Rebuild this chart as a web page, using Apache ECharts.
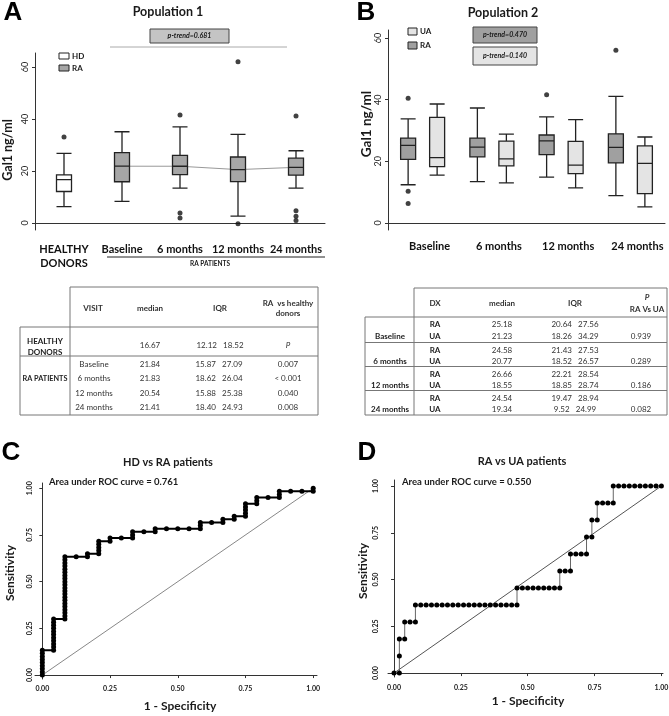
<!DOCTYPE html>
<html><head><meta charset="utf-8">
<script src="https://cdn.jsdelivr.net/npm/echarts@6/dist/echarts.min.js"></script>
<style>html,body{margin:0;padding:0;background:#fff}#c{width:669px;height:716px}</style>
</head><body><div id="c"></div>
<script>
// ---------------- DATA ----------------
// Panel A (Population 1) : [min, Q1, median, Q3, max]
const catsA = ['HEALTHY\nDONORS', 'Baseline', '6 months', '12 months', '24 months'];
const boxA = [
  [6.3, 12.12, 16.67, 18.52, 26.8],
  [8.3, 15.87, 21.84, 27.09, 35.1],
  [13.4, 18.62, 21.83, 26.04, 37.0],
  [2.6, 15.88, 20.54, 25.38, 34.1],
  [13.4, 18.40, 21.41, 24.93, 27.8]
];
const outliersA = [[0, 33.1], [2, 41.5], [2, 3.8], [2, 1.9], [3, 62.0], [3, -0.3], [4, 41.2], [4, 4.7], [4, 2.6], [4, 1.0]];
const ticksAB = [0, 20, 40, 60];

// Panel B (Population 2)
const catsB = ['Baseline', '6 months', '12 months', '24 months'];
const boxB_RA = [
  [12.4, 20.64, 25.18, 27.56, 33.8],
  [13.4, 21.43, 24.58, 27.53, 37.3],
  [14.9, 22.21, 26.66, 28.54, 34.4],
  [8.9, 19.47, 24.54, 28.94, 41.1]
];
const boxB_UA = [
  [15.5, 18.26, 21.23, 34.29, 38.6],
  [13.0, 18.52, 20.77, 26.57, 28.8],
  [11.4, 16.0, 18.8, 26.5, 33.5],
  [5.2, 9.52, 19.34, 24.99, 27.9]
];
const outliersB_RA = [[0, 40.5], [0, 10.3], [0, 6.3], [2, 41.6], [3, 56.0]];

// Table A
const tabA_header = ['VISIT', 'median', 'IQR'];
const tabA_pHeader = ['RA  vs healthy', 'donors'];
const tabA_hd = ['16.67', '12.12   18.52', 'P'];
const tabA_visits = ['Baseline', '6 months', '12 months', '24 months'];
const tabA_median = ['21.84', '21.83', '20.54', '21.41'];
const tabA_iqr = ['15.87   27.09', '18.62   26.04', '15.88   25.38', '18.40   24.93'];
const tabA_p = ['0.007', '< 0.001', '0.040', '0.008'];

// Table B
const tabB_groups = ['Baseline', '6 months', '12 months', '24 months'];
const tabB_medRA = ['25.18', '24.58', '26.66', '24.54'];
const tabB_medUA = ['21.23', '20.77', '18.55', '19.34'];
const tabB_iqrRA = ['20.64   27.56', '21.43   27.53', '22.21   28.54', '19.47   28.94'];
const tabB_iqrUA = ['18.26   34.29', '18.52   26.57', '18.85   28.74', '9.52   24.99'];
const tabB_p = ['0.939', '0.289', '0.186', '0.082'];

// ROC C : [false-positive count (of C_NEG_N), true-positive count (of C_POS_N)]
const C_NEG_N = 24, C_POS_N = 60;
const rocC = [
  [0,0],[0,1],[0,2],[0,3],[0,4],[0,5],[0,6],[0,7],[0,8],
  [1,8],[1,9],[1,10],[1,11],[1,12],[1,13],[1,14],[1,15],[1,16],[1,17],[1,18],
  [2,18],[2,19],[2,20],[2,21],[2,22],[2,23],[2,24],[2,25],[2,26],[2,27],[2,28],[2,29],[2,30],[2,31],[2,32],[2,33],[2,34],[2,35],[2,36],[2,37],[2,38],
  [3,38],[4,38],[4,39],
  [5,39],[5,40],[5,41],[5,42],[5,43],
  [6,43],[6,44],[7,44],
  [8,44],[8,45],[8,46],[9,46],
  [10,46],[10,47],[11,47],[12,47],[13,47],
  [14,47],[14,48],[14,49],[15,49],
  [16,49],[16,50],[17,50],[17,51],
  [18,51],[18,52],[18,53],[18,54],[18,55],
  [19,55],[19,56],[19,57],[20,57],
  [21,57],[21,58],[21,59],[22,59],[23,59],
  [24,59],[24,60]
];
// ROC D
const D_NEG_N = 50, D_POS_N = 11;
const rocD = [
  [0,0],[1,0],[1,1],[1,2],[2,2],[2,3],[3,3],[4,3],[4,4],
  [5,4],[6,4],[7,4],[8,4],[9,4],[10,4],[11,4],[12,4],[13,4],[14,4],[15,4],[16,4],[17,4],[18,4],[19,4],[20,4],[21,4],[22,4],[23,4],
  [23,5],[24,5],[25,5],[26,5],[27,5],[28,5],[29,5],[30,5],[31,5],
  [31,6],[32,6],[33,6],
  [33,7],[34,7],[35,7],[36,7],
  [36,8],[37,8],
  [37,9],[38,9],
  [38,10],[39,10],[40,10],[41,10],
  [41,11],[42,11],[43,11],[44,11],[45,11],[46,11],[47,11],[48,11],[49,11],[50,11]
];
const rocTicks = [0, 0.25, 0.5, 0.75, 1];
const diagonal = [[0, 0], [1, 1]];

// ---------------- STYLE ----------------
const FONT = 'Lato, "Open Sans", sans-serif';
const INK = '#1a1a1a';
const RA_A = '#a6a6a6', RA_B = '#a0a0a0', UA_B = '#e4e4e4';
const TF = 8; // table font size

function T(text, x, y, o) {
  o = o || {};
  return {
    type: 'text', x: x, y: y, rotation: o.rot || 0, silent: true, z: 100,
    style: {
      text: text, fill: o.color || INK, fontSize: o.size || 8,
      fontWeight: o.bold ? 'bold' : 'normal', fontStyle: o.italic ? 'italic' : 'normal',
      fontFamily: o.family || FONT, align: o.align || 'center', verticalAlign: 'middle'
    }
  };
}
function L(x1, y1, x2, y2, c, w) {
  return { type: 'line', silent: true, z: 100, shape: { x1: x1, y1: y1, x2: x2, y2: y2 }, style: { stroke: c || '#777', lineWidth: w || 1 } };
}
function R(x, y, w, h, fill, stroke) {
  return { type: 'rect', silent: true, z: 99, shape: { x: x, y: y, width: w, height: h }, style: { fill: fill, stroke: stroke || '#333', lineWidth: 1 } };
}

function valAxisBox(gi, min, max, margin, show) {
  return {
    type: 'value', gridIndex: gi, min: min, max: max, show: show !== false,
    splitLine: { show: false },
    axisLine: { show: true, lineStyle: { color: '#333', width: 1 } },
    axisTick: { show: true, length: 3, customValues: ticksAB, lineStyle: { color: '#333' } },
    axisLabel: { customValues: ticksAB, rotate: 90, margin: margin, fontSize: 9, color: '#222', fontFamily: FONT }
  };
}
function rocAxis(gi, min, max, isY, margin) {
  return {
    type: 'value', gridIndex: gi, min: min, max: max,
    splitLine: { show: false },
    axisLine: { show: true, lineStyle: { color: '#333', width: 1 } },
    axisTick: { show: true, length: 3, customValues: rocTicks, lineStyle: { color: '#333' } },
    axisLabel: {
      customValues: rocTicks, rotate: isY ? 90 : 0, margin: margin, fontSize: 7, fontWeight: 'bold',
      color: '#222', fontFamily: FONT, formatter: function (v) { return Number(v).toFixed(2); }
    }
  };
}

const gridBase = { outerBoundsMode: 'none', containLabel: false };
const BW = 277, BL = 388, BOFF = 14.5;

const graphics = [];
// panel letters
graphics.push(T('A', 13, 13, { size: 26, bold: true, family: '"Liberation Sans", Arial, sans-serif', color: '#000' }));
graphics.push(T('B', 366, 13, { size: 26, bold: true, family: '"Liberation Sans", Arial, sans-serif', color: '#000' }));
graphics.push(T('C', 11, 453, { size: 26, bold: true, family: '"Liberation Sans", Arial, sans-serif', color: '#000' }));
graphics.push(T('D', 367, 453, { size: 26, bold: true, family: '"Liberation Sans", Arial, sans-serif', color: '#000' }));
// titles
graphics.push(T('Population 1', 168, 12, { size: 12.5, bold: true }));
graphics.push(T('Population 2', 503, 13, { size: 12.5, bold: true }));
graphics.push(T('HD vs RA patients', 168, 462, { size: 11, bold: true }));
graphics.push(T('RA vs UA patients', 522, 461, { size: 11, bold: true }));
graphics.push(T('Area under ROC curve = 0.761', 49, 482, { size: 9.5, bold: true, align: 'left' }));
graphics.push(T('Area under ROC curve = 0.550', 402, 482, { size: 9.5, bold: true, align: 'left' }));
// axis titles
graphics.push(T('Gal1 ng/ml', 8, 150, { size: 12.5, bold: true, rot: Math.PI / 2 }));
graphics.push(T('Gal1 ng/ml', 367, 124, { size: 13.5, bold: true, rot: Math.PI / 2 }));
graphics.push(T('Sensitivity', 10, 573, { size: 12, bold: true, rot: Math.PI / 2 }));
graphics.push(T('Sensitivity', 363, 571, { size: 12, bold: true, rot: Math.PI / 2 }));
graphics.push(T('1 - Specificity', 180, 706, { size: 12, bold: true }));
graphics.push(T('1 - Specificity', 528, 701, { size: 12, bold: true }));
// p-trend boxes
graphics.push(L(110, 47, 287, 47, '#aaa', 1));
graphics.push(R(150, 29, 79, 14, '#c4c4c4', '#444'));
graphics.push(T('p-trend=0.681', 189.5, 36, { size: 7, bold: true, italic: true }));
graphics.push(R(473, 27, 64, 16, RA_B, '#444'));
graphics.push(T('p-trend=0.470', 505, 35, { size: 7, bold: true, italic: true }));
graphics.push(R(473, 47, 64, 18, UA_B, '#444'));
graphics.push(T('p-trend=0.140', 505, 56, { size: 7, bold: true, italic: true }));
// legends
graphics.push(R(59, 53, 10, 6, '#fff', '#222'));
graphics.push(T('HD', 72, 56, { size: 8, bold: true, align: 'left' }));
graphics.push(R(59, 65, 10, 6, RA_A, '#222'));
graphics.push(T('RA', 72, 68, { size: 8, bold: true, align: 'left' }));
graphics.push(R(408, 28, 9, 7, UA_B, '#222'));
graphics.push(T('UA', 420, 31.5, { size: 8, bold: true, align: 'left' }));
graphics.push(R(408, 42, 9, 7, RA_B, '#222'));
graphics.push(T('RA', 420, 45.5, { size: 8, bold: true, align: 'left' }));
// RA patients bracket
graphics.push(L(107, 257, 325, 257, '#222', 1));
graphics.push(T('RA PATIENTS', 210, 264, { size: 6.5, bold: true }));

// ---- Table A ----
[[70,287,318,287],[318,287,318,415],[70,287,70,415],[20,327,318,327],[20,356,318,356],[20,415,318,415],[20,327,20,415]]
  .forEach(function (s) { graphics.push(L(s[0], s[1], s[2], s[3], '#777', 1)); });
const colA = [93, 150, 220];
tabA_header.forEach(function (h, i) { graphics.push(T(h, colA[i], 308, { size: TF, bold: true, color: '#333' })); });
graphics.push(T(tabA_pHeader[0], 288, 303, { size: TF, bold: true, color: '#333' }));
graphics.push(T(tabA_pHeader[1], 288, 313, { size: TF, bold: true, color: '#333' }));
graphics.push(T('HEALTHY', 45, 341, { size: TF, bold: true, color: '#222' }));
graphics.push(T('DONORS', 45, 352, { size: TF, bold: true, color: '#222' }));
graphics.push(T(tabA_hd[0], 150, 345, { size: TF, color: '#333' }));
graphics.push(T(tabA_hd[1], 220, 345, { size: TF, color: '#333' }));
graphics.push(T(tabA_hd[2], 288, 345, { size: TF, italic: true, color: '#333' }));
graphics.push(T('RA PATIENTS', 45, 379, { size: 7.3, bold: true, color: '#222' }));
const rowsA = [364, 378.5, 393, 407];
tabA_visits.forEach(function (v, i) {
  graphics.push(T(v, 94, rowsA[i], { size: TF, color: '#333' }));
  graphics.push(T(tabA_median[i], 150, rowsA[i], { size: TF, color: '#333' }));
  graphics.push(T(tabA_iqr[i], 219, rowsA[i], { size: TF, color: '#333' }));
  graphics.push(T(tabA_p[i], 288, rowsA[i], { size: TF, color: '#333' }));
});

// ---- Table B ----
const topsB = [317, 342.5, 366.5, 390.5];
[[414,288,667,288],[667,288,667,415],[414,288,414,415],[365,317,365,415],[365,415,667,415]]
  .forEach(function (s) { graphics.push(L(s[0], s[1], s[2], s[3], '#777', 1)); });
topsB.forEach(function (y) { graphics.push(L(365, y, 667, y, '#777', 1)); });
graphics.push(T('DX', 435, 303, { size: TF, bold: true, color: '#333' }));
graphics.push(T('median', 502, 303, { size: TF, bold: true, color: '#333' }));
graphics.push(T('IQR', 575, 303, { size: TF, bold: true, color: '#333' }));
graphics.push(T('P', 647, 297.5, { size: TF, bold: true, italic: true, color: '#333' }));
graphics.push(T('RA Vs UA', 647, 309, { size: TF, bold: true, color: '#333' }));
tabB_groups.forEach(function (g, i) {
  const yRA = topsB[i] + 7.5, yUA = topsB[i] + 19;
  graphics.push(T(g, 390, yUA, { size: TF, bold: true, color: '#222' }));
  graphics.push(T('RA', 435, yRA, { size: TF, bold: true, color: '#222' }));
  graphics.push(T('UA', 435, yUA, { size: TF, bold: true, color: '#222' }));
  graphics.push(T(tabB_medRA[i], 502, yRA, { size: TF, color: '#333' }));
  graphics.push(T(tabB_medUA[i], 502, yUA, { size: TF, color: '#333' }));
  graphics.push(T(tabB_iqrRA[i], 575, yRA, { size: TF, color: '#333' }));
  graphics.push(T(tabB_iqrUA[i], 575, yUA, { size: TF, color: '#333' }));
  graphics.push(T(tabB_p[i], 641, yUA, { size: TF, color: '#333' }));
});

const boxStyle = { borderColor: '#222', borderWidth: 1.3 };

const option = {
  animation: false,
  backgroundColor: '#fff',
  textStyle: { fontFamily: FONT },
  grid: [
    Object.assign({ left: 35, top: 53, width: 290, height: 177 }, gridBase),
    Object.assign({ left: BL, top: 30, width: BW, height: 200 }, gridBase),
    Object.assign({ left: BL - BOFF, top: 30, width: BW, height: 200 }, gridBase),
    Object.assign({ left: BL + BOFF, top: 30, width: BW, height: 200 }, gridBase),
    Object.assign({ left: 35, top: 483, width: 282, height: 196 }, gridBase),
    Object.assign({ left: 388, top: 480, width: 275, height: 197 }, gridBase)
  ],
  xAxis: [
    { type: 'category', gridIndex: 0, data: catsA, axisTick: { show: false },
      axisLine: { lineStyle: { color: '#333' } },
      axisLabel: { interval: 0, fontSize: 11, fontWeight: 'bold', color: '#111', margin: 12, lineHeight: 14, fontFamily: FONT } },
    { type: 'category', gridIndex: 1, data: catsB, axisTick: { show: false },
      axisLine: { lineStyle: { color: '#333' } },
      axisLabel: { interval: 0, fontSize: 11, fontWeight: 'bold', color: '#111', margin: 11, padding: [0, 0, 0, 14], fontFamily: FONT } },
    { type: 'category', gridIndex: 2, data: catsB, show: false },
    { type: 'category', gridIndex: 3, data: catsB, show: false },
    rocAxis(4, -0.027, 1.014, false, 6),
    rocAxis(5, -0.0225, 1.006, false, 7)
  ],
  yAxis: [
    valAxisBox(0, -2.7, 65.4, 5),
    valAxisBox(1, -2.27, 62.6, 5),
    valAxisBox(2, -2.27, 62.6, 5, false),
    valAxisBox(3, -2.27, 62.6, 5, false),
    rocAxis(4, -0.021, 1.028, true, 2),
    rocAxis(5, -0.021, 1.032, true, 9)
  ],
  graphic: graphics,
  series: [
    { type: 'line', xAxisIndex: 0, yAxisIndex: 0, z: 1, silent: true, symbol: 'none',
      lineStyle: { color: '#999', width: 1 },
      data: boxA.map(function (b, i) { return i === 0 ? '-' : b[2]; }) },
    { type: 'boxplot', name: 'Population 1', xAxisIndex: 0, yAxisIndex: 0, z: 3, silent: true,
      boxWidth: [15, 15], itemStyle: boxStyle,
      data: boxA.map(function (b, i) { return { value: b, itemStyle: { color: i === 0 ? '#fff' : RA_A } }; }) },
    { type: 'scatter', xAxisIndex: 0, yAxisIndex: 0, z: 4, silent: true, symbolSize: 5,
      itemStyle: { color: '#111' }, data: outliersA },
    { type: 'boxplot', name: 'RA', xAxisIndex: 2, yAxisIndex: 2, z: 3, silent: true,
      boxWidth: [15, 15], itemStyle: Object.assign({ color: RA_B }, boxStyle), data: boxB_RA },
    { type: 'boxplot', name: 'UA', xAxisIndex: 3, yAxisIndex: 3, z: 3, silent: true,
      boxWidth: [15, 15], itemStyle: Object.assign({ color: UA_B }, boxStyle), data: boxB_UA },
    { type: 'scatter', xAxisIndex: 2, yAxisIndex: 2, z: 4, silent: true, symbolSize: 5,
      itemStyle: { color: '#111' }, data: outliersB_RA },
    { type: 'line', xAxisIndex: 4, yAxisIndex: 4, silent: true, symbol: 'none', z: 1,
      lineStyle: { color: '#888', width: 1 }, data: diagonal },
    { type: 'line', xAxisIndex: 4, yAxisIndex: 4, silent: true, z: 3, showAllSymbol: true,
      symbol: 'circle', symbolSize: 5, itemStyle: { color: '#000' }, lineStyle: { color: '#000', width: 2 },
      data: rocC.map(function (p) { return [p[0] / C_NEG_N, p[1] / C_POS_N]; }) },
    { type: 'line', xAxisIndex: 5, yAxisIndex: 5, silent: true, symbol: 'none', z: 1,
      lineStyle: { color: '#555', width: 1 }, data: diagonal },
    { type: 'line', xAxisIndex: 5, yAxisIndex: 5, silent: true, z: 3, showAllSymbol: true,
      symbol: 'circle', symbolSize: 5, itemStyle: { color: '#000' }, lineStyle: { color: '#666', width: 1 },
      data: rocD.map(function (p) { return [p[0] / D_NEG_N, p[1] / D_POS_N]; }) }
  ]
};
const chart = echarts.init(document.getElementById('c'));
chart.setOption(option);
</script></body></html>
